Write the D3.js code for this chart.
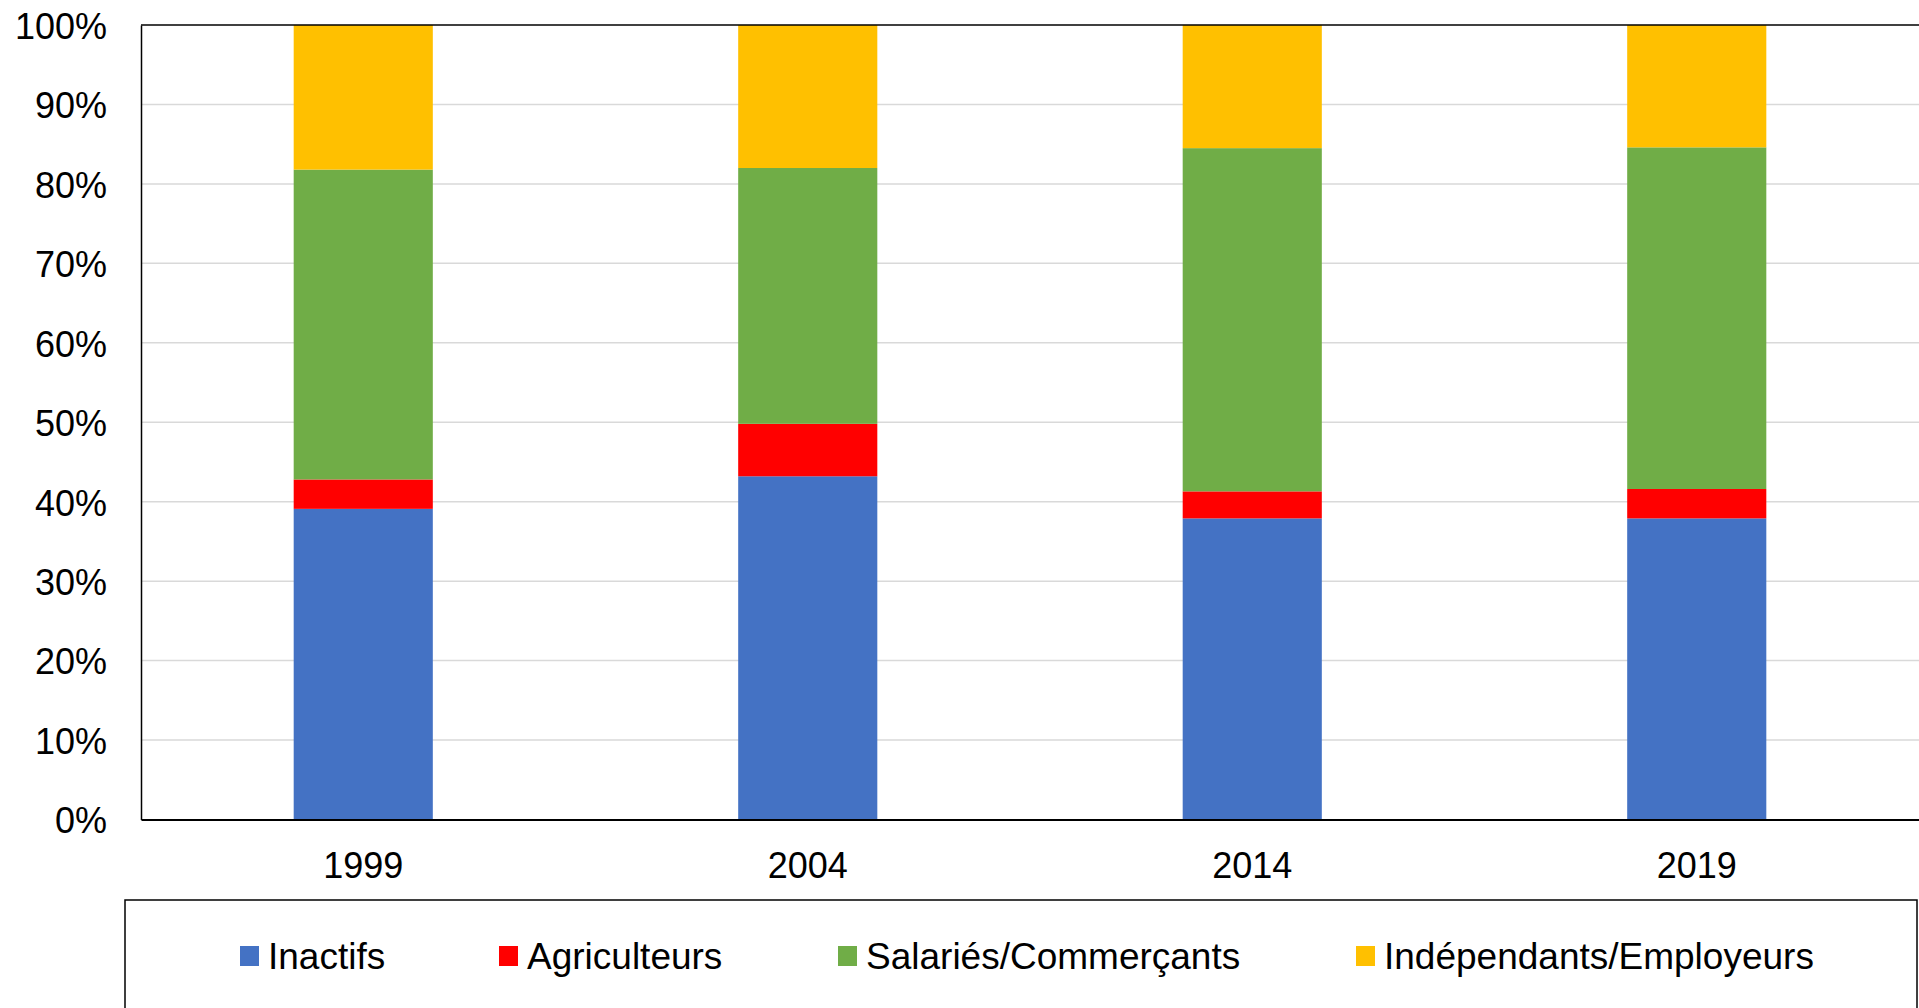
<!DOCTYPE html>
<html>
<head>
<meta charset="utf-8">
<script src="https://cdn.jsdelivr.net/npm/d3@7"></script>
<style>
  html, body { margin: 0; padding: 0; background: #fff; overflow: hidden; }
  svg { display: block; font-family: "Liberation Sans", Arial, sans-serif; }
</style>
</head>
<body>
<svg id="chart" width="1919" height="1008"></svg>
<script>
const years = ["1999", "2004", "2014", "2019"];
const seriesNames = ["Inactifs", "Agriculteurs", "Salariés/Commerçants", "Indépendants/Employeurs"];
const inactifs     = [39.1, 43.2, 37.9, 37.9];
const agriculteurs = [3.7, 6.6, 3.4, 3.7];
const salaries     = [39.0, 32.2, 43.2, 43.0];
const independants = [18.2, 18.0, 15.5, 15.4];
const yTicks = [0, 10, 20, 30, 40, 50, 60, 70, 80, 90, 100];
const colors = ["#4472C4", "#FF0000", "#70AD47", "#FFC000"];

(function () {
const rows = years.map((yr, i) => ({
  year: yr,
  "Inactifs": inactifs[i],
  "Agriculteurs": agriculteurs[i],
  "Salariés/Commerçants": salaries[i],
  "Indépendants/Employeurs": independants[i]
}));

const svg = d3.select("#chart");
const mLeft = 141, mRight = 1919, mTop = 25, mBottom = 819.5;

const x = d3.scaleBand().domain(years).range([mLeft, mRight]).paddingInner(0.687).paddingOuter(0.3435);
const y = d3.scaleLinear().domain([0, 100]).range([mBottom, mTop]);
const color = d3.scaleOrdinal().domain(seriesNames).range(colors);

// gridlines
svg.append("g")
  .selectAll("line")
  .data(yTicks.filter(t => t > 0 && t < 100))
  .join("line")
  .attr("x1", mLeft).attr("x2", mRight)
  .attr("y1", d => y(d)).attr("y2", d => y(d))
  .attr("stroke", "#d9d9d9").attr("stroke-width", 1.5);

// bars
const stacked = d3.stack().keys(seriesNames)(rows);
svg.append("g")
  .selectAll("g")
  .data(stacked)
  .join("g")
  .attr("fill", d => color(d.key))
  .selectAll("rect")
  .data(d => d)
  .join("rect")
  .attr("x", d => x(d.data.year))
  .attr("width", x.bandwidth())
  .attr("y", d => y(d[1]))
  .attr("height", d => y(d[0]) - y(d[1]));

// plot frame top
svg.append("line").attr("x1", mLeft).attr("x2", mRight + 5).attr("y1", y(100)).attr("y2", y(100))
  .attr("stroke", "#000").attr("stroke-width", 1.5);

// y axis
const yAxis = svg.append("g")
  .attr("transform", `translate(${mLeft},0)`)
  .call(d3.axisLeft(y).tickValues(yTicks).tickFormat(d => d + "%").tickSize(0).tickPadding(34));
yAxis.select(".domain").attr("stroke", "#000").attr("stroke-width", 1.5);
yAxis.selectAll("text").attr("font-size", 36).attr("fill", "#000").attr("dy", "0.37em")
  .attr("font-family", "'Liberation Sans', Arial, sans-serif");

// x axis
const xAxis = svg.append("g")
  .attr("transform", `translate(0,${mBottom})`)
  .call(d3.axisBottom(x).tickSize(0).tickPadding(33));
xAxis.select(".domain").attr("stroke", "#000").attr("stroke-width", 2);
xAxis.selectAll("text").attr("font-size", 36).attr("fill", "#000")
  .attr("font-family", "'Liberation Sans', Arial, sans-serif");

// legend
svg.append("rect")
  .attr("x", 125).attr("y", 900).attr("width", 1792).attr("height", 140)
  .attr("fill", "none").attr("stroke", "#000").attr("stroke-width", 1.5);

const legendX = [240, 499, 838, 1356];
const lg = svg.append("g").selectAll("g")
  .data(seriesNames)
  .join("g")
  .attr("transform", (d, i) => `translate(${legendX[i]},0)`);
lg.append("rect")
  .attr("x", 0).attr("y", 946).attr("width", 19).attr("height", 20)
  .attr("fill", d => color(d));
lg.append("text")
  .attr("x", 28).attr("y", 968.5)
  .attr("font-size", 37).attr("fill", "#000")
  .attr("font-family", "'Liberation Sans', Arial, sans-serif")
  .text(d => d);
})();
</script>
</body>
</html>
